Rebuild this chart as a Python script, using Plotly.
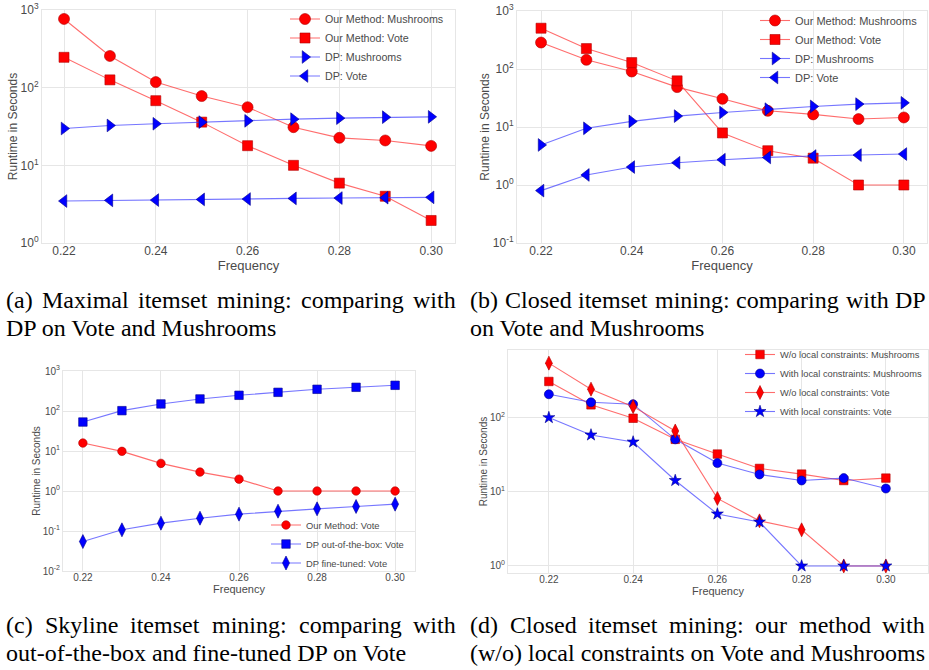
import plotly.graph_objects as go

W, H = 929, 670

freq = [0.22, 0.23, 0.24, 0.25, 0.26, 0.27, 0.28, 0.29, 0.30]
x_tickvals = [0.22, 0.24, 0.26, 0.28, 0.30]
x_ticktext = ["0.22", "0.24", "0.26", "0.28", "0.30"]

# (a) Maximal itemset mining
a_ours_mush = [767, 256, 118, 78, 56, 31, 22.6, 20.9, 17.8]
a_ours_vote = [246, 126, 68, 36, 17.9, 10, 5.9, 4.0, 1.95]
a_dp_mush = [29.8, 32.6, 34.3, 36, 37.4, 39.3, 40.5, 41.7, 42.1]
a_dp_vote = [3.47, 3.54, 3.57, 3.64, 3.68, 3.75, 3.79, 3.83, 3.87]

# (b) Closed itemset mining
b_ours_mush = [286, 144, 90.5, 48.7, 30.6, 19, 16.5, 13.7, 14.6]
b_ours_vote = [505, 225, 129, 62.5, 7.9, 3.9, 2.9, 1, 1]
b_dp_mush = [4.9, 9.5, 12.5, 15.4, 17.8, 20.3, 22.6, 24.8, 26.1]
b_dp_vote = [0.80, 1.49, 2.04, 2.42, 2.73, 2.99, 3.16, 3.28, 3.42]

# (c) Skyline itemset mining
c_ours_vote = [15.8, 9.8, 4.9, 2.97, 1.98, 1, 1, 1, 1]
c_dp_oob_vote = [53, 102, 150, 200, 247, 293, 349, 391, 439]
c_dp_fine_vote = [0.0545, 0.107, 0.157, 0.209, 0.264, 0.313, 0.358, 0.41, 0.469]

# (d) Closed itemset mining with / without local constraints
d_wo_mush = [303, 147, 97, 50.5, 32, 20.5, 17.2, 14.1, 15.2]
d_with_mush = [204, 159, 150, 50.5, 24.2, 17, 14.1, 15.2, 11]
d_wo_vote = [535, 239, 139, 65.4, 8.1, 4.04, 3.06, 1, 1]
d_with_vote = [99, 57.8, 46.5, 14.1, 5.0, 3.9, 1, 1, 1]

names_ab = ["Our Method: Mushrooms", "Our Method: Vote", "DP: Mushrooms", "DP: Vote"]
names_c = ["Our Method: Vote", "DP out-of-the-box: Vote", "DP fine-tuned: Vote"]
names_d = ["W/o local constraints: Mushrooms", "With local constraints: Mushrooms",
           "W/o local constraints: Vote", "With local constraints: Vote"]

y_tick_exps_a = [0, 1, 2, 3]
y_tick_exps_b = [-1, 0, 1, 2, 3]
y_tick_exps_c = [-2, -1, 0, 1, 2, 3]
y_tick_exps_d = [0, 1, 2]

captions = {
    "a": ("(a) Maximal itemset mining: comparing with", "DP on Vote and Mushrooms"),
    "b": ("(b) Closed itemset mining: comparing with DP", "on Vote and Mushrooms"),
    "c": ("(c) Skyline itemset mining: comparing with", "out-of-the-box and fine-tuned DP on Vote"),
    "d": ("(d) Closed itemset mining: our method with", "(w/o) local constraints on Vote and Mushrooms"),
}

# ---------------- styling / layout ----------------
RED = "#ff0000"
RED_EDGE = "#b00000"
RED_LINE = "rgba(255,60,60,0.75)"
BLUE = "#0000ff"
BLUE_EDGE = "#00008b"
BLUE_LINE = "rgba(60,60,255,0.7)"
GRID = "#e6e6e6"
TXT = "#4a4a4a"
FONT = "Liberation Sans, Arial, sans-serif"

fig = go.Figure()


def add(y, name, color, edge, line, symbol, size, xa, ya, legend):
    fig.add_trace(go.Scatter(
        x=freq, y=y, name=name, mode="lines+markers",
        line=dict(color=line, width=1.1),
        marker=dict(color=color, symbol=symbol, size=size, line=dict(color=edge, width=0.6)),
        xaxis=xa, yaxis=ya, legend=legend))


add(a_ours_mush, names_ab[0], RED, RED_EDGE, RED_LINE, "circle", 11, "x", "y", "legend")
add(a_ours_vote, names_ab[1], RED, RED_EDGE, RED_LINE, "square", 10, "x", "y", "legend")
add(a_dp_mush, names_ab[2], BLUE, BLUE_EDGE, BLUE_LINE, "triangle-right", 11, "x", "y", "legend")
add(a_dp_vote, names_ab[3], BLUE, BLUE_EDGE, BLUE_LINE, "triangle-left", 11, "x", "y", "legend")

add(b_ours_mush, names_ab[0], RED, RED_EDGE, RED_LINE, "circle", 11, "x2", "y2", "legend2")
add(b_ours_vote, names_ab[1], RED, RED_EDGE, RED_LINE, "square", 10, "x2", "y2", "legend2")
add(b_dp_mush, names_ab[2], BLUE, BLUE_EDGE, BLUE_LINE, "triangle-right", 11, "x2", "y2", "legend2")
add(b_dp_vote, names_ab[3], BLUE, BLUE_EDGE, BLUE_LINE, "triangle-left", 11, "x2", "y2", "legend2")

add(c_ours_vote, names_c[0], RED, RED_EDGE, RED_LINE, "circle", 8.5, "x3", "y3", "legend3")
add(c_dp_oob_vote, names_c[1], BLUE, BLUE_EDGE, BLUE_LINE, "square", 8.5, "x3", "y3", "legend3")
add(c_dp_fine_vote, names_c[2], BLUE, BLUE_EDGE, BLUE_LINE, "diamond-tall", 10, "x3", "y3", "legend3")

add(d_wo_mush, names_d[0], RED, RED_EDGE, RED_LINE, "square", 8.5, "x4", "y4", "legend4")
add(d_with_mush, names_d[1], BLUE, BLUE_EDGE, BLUE_LINE, "circle", 9, "x4", "y4", "legend4")
add(d_wo_vote, names_d[2], RED, RED_EDGE, RED_LINE, "diamond-tall", 10, "x4", "y4", "legend4")
add(d_with_vote, names_d[3], BLUE, BLUE_EDGE, BLUE_LINE, "star", 9, "x4", "y4", "legend4")


def px_x(a, b):
    return [a / W, b / W]


def px_y(top, bottom):
    return [1 - bottom / H, 1 - top / H]


def xaxis(dom, rng, anchor, fs):
    return dict(domain=dom, range=rng, anchor=anchor, tickvals=x_tickvals, ticktext=x_ticktext,
                automargin=False, ticklabelstandoff=-3,
                showgrid=True, gridcolor=GRID, gridwidth=1, showline=True, linecolor=GRID,
                mirror=True, zeroline=False, ticks="", ticklen=0,
                tickfont=dict(family=FONT, size=fs, color=TXT),
                title=dict(text="Frequency", font=dict(family=FONT, size=fs + 1, color=TXT), standoff=0))


def yaxis(dom, rng, anchor, exps, fs):
    return dict(domain=dom, range=rng, anchor=anchor, type="log",
                automargin=False,
                tickvals=[10.0 ** e for e in exps],
                ticktext=["10<sup>%d</sup>" % e for e in exps],
                showgrid=True, gridcolor=GRID, gridwidth=1, showline=True, linecolor=GRID,
                mirror=True, zeroline=False, ticks="", ticklen=0,
                tickfont=dict(family=FONT, size=fs, color=TXT),
                title=dict(text="Runtime in Seconds", font=dict(family=FONT, size=fs, color=TXT), standoff=0))


def legend(xpx, ypx, fs):
    return dict(x=xpx / W, y=1 - ypx / H, xanchor="left", yanchor="top",
                bgcolor="rgba(255,255,255,0)", borderwidth=0,
                font=dict(family=FONT, size=fs, color=TXT), tracegroupgap=0)


fig.update_layout(
    width=W, height=H, margin=dict(l=0, r=0, t=0, b=0, autoexpand=False),
    paper_bgcolor="white", plot_bgcolor="white", showlegend=True,
    xaxis=xaxis(px_x(42, 455), [0.2152, 0.3052], "y", 12),
    yaxis=yaxis(px_y(10, 243), [0.0, 3.0], "x", y_tick_exps_a, 12),
    xaxis2=xaxis(px_x(517, 927), [0.2147, 0.3051], "y2", 12),
    yaxis2=yaxis(px_y(11, 243), [-1.0, 3.0], "x2", y_tick_exps_b, 12),
    xaxis3=xaxis(px_x(63, 415), [0.2149, 0.3051], "y3", 10),
    yaxis3=yaxis(px_y(371, 571), [-2.0, 3.0], "x3", y_tick_exps_c, 10),
    xaxis4=xaxis(px_x(508, 928), [0.2103, 0.3100], "y4", 10),
    yaxis4=yaxis(px_y(350, 573), [-0.095, 2.905], "x4", y_tick_exps_d, 10),
    legend=legend(285, 4.5, 10.7),
    legend2=legend(755, 6, 11),
    legend3=legend(266, 510.5, 9.4),
    legend4=legend(740, 340, 9.3),
)

# ---------------- captions (justified first lines, Times metrics) ----------------
TIMES_W = {" ": 250, "(": 333, ")": 333, ":": 278, "/": 278, "-": 333,
           "a": 444, "b": 500, "c": 444, "d": 500, "e": 444, "f": 333, "g": 500, "h": 500,
           "i": 278, "k": 500, "l": 278, "m": 778, "n": 500, "o": 500, "p": 500, "r": 333,
           "s": 389, "t": 278, "u": 500, "v": 500, "w": 722, "x": 500, "y": 500,
           "C": 667, "D": 722, "M": 889, "P": 556, "S": 556, "V": 722}
CAP_SIZE = 24
CAP_FONT = dict(family="Liberation Serif, Times New Roman, serif", size=CAP_SIZE, color="black")
CAP_PAD = 3


def word_w(w):
    return sum(TIMES_W.get(ch, 500) for ch in w) / 1000.0 * CAP_SIZE


# (line-1 start, line-1 justified end, line-1 centre y, line-2 centre y)
cap_layout = {
    "a": (7, 457, 300, 328),
    "b": (471, 927, 300, 328),
    "c": (7, 457, 625, 653),
    "d": (471, 926, 625, 653),
}
for key, (line1, line2) in captions.items():
    x0, x1, y1, y2 = cap_layout[key]
    words = line1.split(" ")
    widths = [word_w(w) for w in words]
    gap = (x1 - x0 - sum(widths)) / (len(words) - 1)
    xp = x0
    for w, ww in zip(words, widths):
        fig.add_annotation(text=w, x=(xp - CAP_PAD) / W, y=1 - y1 / H, xref="paper", yref="paper",
                           xanchor="left", yanchor="middle", showarrow=False, font=CAP_FONT)
        xp += ww + gap
    fig.add_annotation(text=line2, x=(x0 - CAP_PAD) / W, y=1 - y2 / H, xref="paper", yref="paper",
                       xanchor="left", yanchor="middle", showarrow=False, font=CAP_FONT)

fig.write_html("out.html", config={"displayModeBar": False},
               post_script="document.body.style.margin='0';")
